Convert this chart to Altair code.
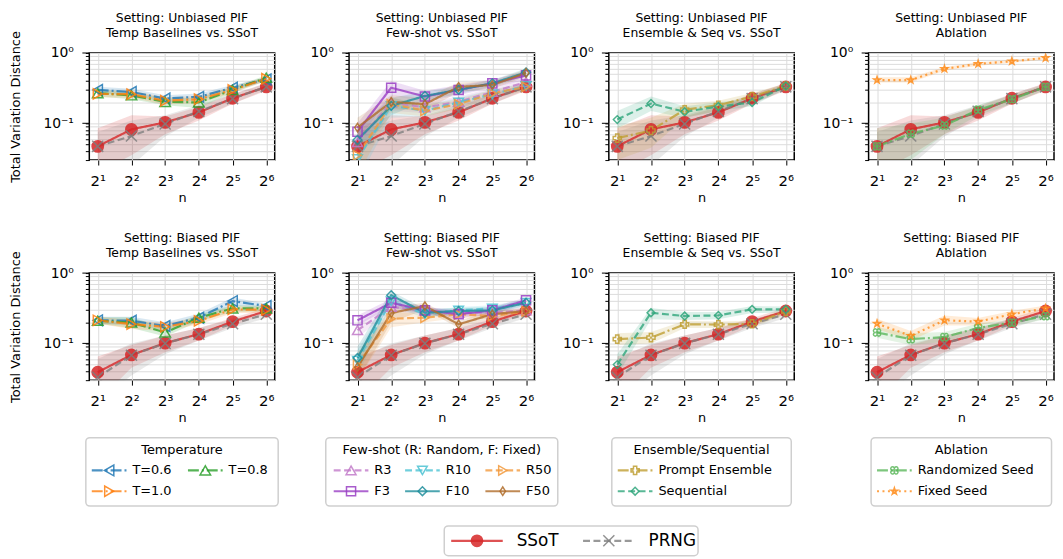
import altair as alt
import pandas as pd

# ---------------- categories / ticks ----------------
N = [2, 4, 8, 16, 32, 64]
X_TICK_LABELS = ['2¹', '2²', '2³', '2⁴', '2⁵', '2⁶']
Y_MAJOR = [1.0, 0.1]
Y_MAJOR_LABELS = ['10⁰', '10⁻¹']
Y_MINOR = [0.03, 0.04, 0.05, 0.06, 0.07, 0.08, 0.09, 0.2, 0.3, 0.4, 0.5, 0.6, 0.7, 0.8, 0.9]

SETTINGS = ['Unbiased PIF', 'Biased PIF']
GROUPS = ['Temp Baselines vs. SSoT', 'Few-shot vs. SSoT', 'Ensemble & Seq vs. SSoT', 'Ablation']
GROUP_SERIES = [
    ['SSoT', 'PRNG', 'T=0.6', 'T=0.8', 'T=1.0'],
    ['SSoT', 'PRNG', 'R3', 'R10', 'R50', 'F3', 'F10', 'F50'],
    ['SSoT', 'PRNG', 'Prompt Ensemble', 'Sequential'],
    ['SSoT', 'PRNG', 'Randomized Seed', 'Fixed Seed'],
]

# ---------------- data: Unbiased PIF ----------------
ub_ssot = [0.047, 0.082, 0.103, 0.143, 0.227, 0.329]
ub_ssot_lo = [0.02, 0.035, 0.07, 0.11, 0.19, 0.29]
ub_ssot_hi = [0.085, 0.13, 0.125, 0.17, 0.26, 0.37]
ub_prng = [0.047, 0.066, 0.098, 0.148, 0.224, 0.33]
ub_prng_lo = [0.02, 0.025, 0.065, 0.12, 0.19, 0.3]
ub_prng_hi = [0.075, 0.11, 0.13, 0.18, 0.26, 0.37]
ub_t06 = [0.298, 0.279, 0.225, 0.238, 0.321, 0.42]
ub_t06_lo = [0.27, 0.25, 0.2, 0.21, 0.29, 0.39]
ub_t06_hi = [0.33, 0.31, 0.25, 0.265, 0.35, 0.45]
ub_t08 = [0.268, 0.25, 0.202, 0.198, 0.298, 0.444]
ub_t08_lo = [0.24, 0.22, 0.18, 0.165, 0.27, 0.41]
ub_t08_hi = [0.3, 0.28, 0.225, 0.23, 0.33, 0.48]
ub_t10 = [0.262, 0.259, 0.209, 0.22, 0.298, 0.43]
ub_t10_lo = [0.235, 0.23, 0.185, 0.195, 0.27, 0.4]
ub_t10_hi = [0.29, 0.29, 0.235, 0.245, 0.33, 0.46]
ub_r3 = [0.054, 0.198, 0.168, 0.202, 0.279, 0.386]
ub_r3_lo = [0.035, 0.15, 0.14, 0.17, 0.24, 0.34]
ub_r3_hi = [0.08, 0.25, 0.2, 0.24, 0.32, 0.43]
ub_r10 = [0.031, 0.177, 0.151, 0.198, 0.259, 0.339]
ub_r10_lo = [0.015, 0.12, 0.125, 0.165, 0.22, 0.3]
ub_r10_hi = [0.05, 0.23, 0.18, 0.23, 0.3, 0.38]
ub_r50 = [0.035, 0.187, 0.151, 0.187, 0.266, 0.33]
ub_r50_lo = [0.018, 0.14, 0.125, 0.16, 0.23, 0.29]
ub_r50_hi = [0.055, 0.235, 0.18, 0.22, 0.3, 0.37]
ub_f3 = [0.076, 0.321, 0.24, 0.298, 0.37, 0.48]
ub_f3_lo = [0.055, 0.25, 0.2, 0.25, 0.32, 0.42]
ub_f3_hi = [0.1, 0.4, 0.29, 0.35, 0.42, 0.55]
ub_f10 = [0.058, 0.177, 0.245, 0.3, 0.37, 0.53]
ub_f10_lo = [0.035, 0.13, 0.21, 0.26, 0.33, 0.47]
ub_f10_hi = [0.085, 0.23, 0.28, 0.34, 0.41, 0.6]
ub_f50 = [0.087, 0.202, 0.187, 0.33, 0.35, 0.52]
ub_f50_lo = [0.06, 0.16, 0.15, 0.28, 0.31, 0.46]
ub_f50_hi = [0.12, 0.25, 0.23, 0.38, 0.4, 0.58]
ub_pe = [0.0615, 0.079, 0.156, 0.181, 0.24, 0.339]
ub_pe_lo = [0.03, 0.045, 0.12, 0.15, 0.21, 0.31]
ub_pe_hi = [0.09, 0.12, 0.19, 0.21, 0.27, 0.37]
ub_seq = [0.113, 0.191, 0.146, 0.173, 0.198, 0.339]
ub_seq_lo = [0.085, 0.15, 0.12, 0.15, 0.175, 0.31]
ub_seq_hi = [0.15, 0.24, 0.175, 0.2, 0.225, 0.37]
ub_rs = [0.047, 0.071, 0.093, 0.156, 0.22, 0.33]
ub_rs_lo = [0.02, 0.03, 0.07, 0.13, 0.19, 0.3]
ub_rs_hi = [0.085, 0.1, 0.12, 0.18, 0.25, 0.36]
ub_fs = [0.412, 0.412, 0.595, 0.70, 0.763, 0.85]
ub_fs_lo = [0.38, 0.38, 0.56, 0.66, 0.72, 0.81]
ub_fs_hi = [0.45, 0.45, 0.63, 0.74, 0.8, 0.89]

# ---------------- data: Biased PIF ----------------
b_ssot = [0.039, 0.0686, 0.101, 0.1355, 0.204, 0.289]
b_ssot_lo = [0.015, 0.045, 0.075, 0.11, 0.18, 0.26]
b_ssot_hi = [0.065, 0.095, 0.13, 0.165, 0.23, 0.32]
b_prng = [0.033, 0.068, 0.1, 0.135, 0.19, 0.26]
b_prng_lo = [0.015, 0.035, 0.07, 0.11, 0.165, 0.23]
b_prng_hi = [0.06, 0.1, 0.13, 0.165, 0.22, 0.29]
b_t06 = [0.213, 0.21, 0.177, 0.232, 0.40, 0.34]
b_t06_lo = [0.19, 0.18, 0.155, 0.2, 0.35, 0.31]
b_t06_hi = [0.24, 0.24, 0.2, 0.265, 0.45, 0.37]
b_t08 = [0.21, 0.198, 0.143, 0.232, 0.315, 0.315]
b_t08_lo = [0.19, 0.165, 0.125, 0.205, 0.28, 0.285]
b_t08_hi = [0.235, 0.235, 0.165, 0.26, 0.35, 0.345]
b_t10 = [0.213, 0.188, 0.172, 0.209, 0.305, 0.30]
b_t10_lo = [0.19, 0.16, 0.15, 0.185, 0.27, 0.27]
b_t10_hi = [0.24, 0.215, 0.195, 0.235, 0.34, 0.33]
b_r3 = [0.154, 0.329, 0.295, 0.273, 0.273, 0.295]
b_r3_lo = [0.12, 0.29, 0.26, 0.245, 0.245, 0.265]
b_r3_hi = [0.19, 0.37, 0.33, 0.3, 0.3, 0.33]
b_r10 = [0.057, 0.40, 0.26, 0.295, 0.315, 0.378]
b_r10_lo = [0.035, 0.34, 0.23, 0.265, 0.28, 0.34]
b_r10_hi = [0.08, 0.46, 0.29, 0.33, 0.35, 0.42]
b_r50 = [0.05, 0.225, 0.232, 0.26, 0.245, 0.285]
b_r50_lo = [0.03, 0.17, 0.2, 0.23, 0.22, 0.255]
b_r50_hi = [0.075, 0.28, 0.265, 0.29, 0.27, 0.315]
b_f3 = [0.213, 0.378, 0.295, 0.26, 0.295, 0.41]
b_f3_lo = [0.18, 0.33, 0.26, 0.23, 0.26, 0.37]
b_f3_hi = [0.25, 0.43, 0.33, 0.29, 0.33, 0.45]
b_f10 = [0.062, 0.485, 0.273, 0.289, 0.295, 0.378]
b_f10_lo = [0.04, 0.42, 0.24, 0.26, 0.265, 0.34]
b_f10_hi = [0.09, 0.55, 0.31, 0.32, 0.33, 0.42]
b_f50 = [0.046, 0.27, 0.34, 0.187, 0.26, 0.289]
b_f50_lo = [0.03, 0.2, 0.3, 0.165, 0.23, 0.26]
b_f50_hi = [0.07, 0.33, 0.38, 0.21, 0.29, 0.32]
b_pe = [0.115, 0.121, 0.187, 0.185, 0.19, 0.285]
b_pe_lo = [0.095, 0.1, 0.165, 0.165, 0.17, 0.26]
b_pe_hi = [0.14, 0.145, 0.21, 0.205, 0.21, 0.31]
b_seq = [0.05, 0.273, 0.245, 0.25, 0.305, 0.305]
b_seq_lo = [0.035, 0.22, 0.215, 0.22, 0.27, 0.275]
b_seq_hi = [0.07, 0.32, 0.28, 0.28, 0.34, 0.335]
b_rs = [0.143, 0.115, 0.123, 0.166, 0.198, 0.245]
b_rs_lo = [0.12, 0.095, 0.105, 0.145, 0.175, 0.22]
b_rs_hi = [0.17, 0.14, 0.145, 0.19, 0.22, 0.27]
b_fs = [0.191, 0.128, 0.213, 0.204, 0.26, 0.315]
b_fs_lo = [0.16, 0.11, 0.18, 0.18, 0.23, 0.285]
b_fs_hi = [0.225, 0.15, 0.25, 0.23, 0.29, 0.345]

DATA = {
    ('Unbiased PIF', 'SSoT'): (ub_ssot, ub_ssot_lo, ub_ssot_hi),
    ('Unbiased PIF', 'PRNG'): (ub_prng, ub_prng_lo, ub_prng_hi),
    ('Unbiased PIF', 'T=0.6'): (ub_t06, ub_t06_lo, ub_t06_hi),
    ('Unbiased PIF', 'T=0.8'): (ub_t08, ub_t08_lo, ub_t08_hi),
    ('Unbiased PIF', 'T=1.0'): (ub_t10, ub_t10_lo, ub_t10_hi),
    ('Unbiased PIF', 'R3'): (ub_r3, ub_r3_lo, ub_r3_hi),
    ('Unbiased PIF', 'R10'): (ub_r10, ub_r10_lo, ub_r10_hi),
    ('Unbiased PIF', 'R50'): (ub_r50, ub_r50_lo, ub_r50_hi),
    ('Unbiased PIF', 'F3'): (ub_f3, ub_f3_lo, ub_f3_hi),
    ('Unbiased PIF', 'F10'): (ub_f10, ub_f10_lo, ub_f10_hi),
    ('Unbiased PIF', 'F50'): (ub_f50, ub_f50_lo, ub_f50_hi),
    ('Unbiased PIF', 'Prompt Ensemble'): (ub_pe, ub_pe_lo, ub_pe_hi),
    ('Unbiased PIF', 'Sequential'): (ub_seq, ub_seq_lo, ub_seq_hi),
    ('Unbiased PIF', 'Randomized Seed'): (ub_rs, ub_rs_lo, ub_rs_hi),
    ('Unbiased PIF', 'Fixed Seed'): (ub_fs, ub_fs_lo, ub_fs_hi),
    ('Biased PIF', 'SSoT'): (b_ssot, b_ssot_lo, b_ssot_hi),
    ('Biased PIF', 'PRNG'): (b_prng, b_prng_lo, b_prng_hi),
    ('Biased PIF', 'T=0.6'): (b_t06, b_t06_lo, b_t06_hi),
    ('Biased PIF', 'T=0.8'): (b_t08, b_t08_lo, b_t08_hi),
    ('Biased PIF', 'T=1.0'): (b_t10, b_t10_lo, b_t10_hi),
    ('Biased PIF', 'R3'): (b_r3, b_r3_lo, b_r3_hi),
    ('Biased PIF', 'R10'): (b_r10, b_r10_lo, b_r10_hi),
    ('Biased PIF', 'R50'): (b_r50, b_r50_lo, b_r50_hi),
    ('Biased PIF', 'F3'): (b_f3, b_f3_lo, b_f3_hi),
    ('Biased PIF', 'F10'): (b_f10, b_f10_lo, b_f10_hi),
    ('Biased PIF', 'F50'): (b_f50, b_f50_lo, b_f50_hi),
    ('Biased PIF', 'Prompt Ensemble'): (b_pe, b_pe_lo, b_pe_hi),
    ('Biased PIF', 'Sequential'): (b_seq, b_seq_lo, b_seq_hi),
    ('Biased PIF', 'Randomized Seed'): (b_rs, b_rs_lo, b_rs_hi),
    ('Biased PIF', 'Fixed Seed'): (b_fs, b_fs_lo, b_fs_hi),
}

# ---------------- series styles ----------------
X_PATH = 'M-1,-1L1,1M-1,1L1,-1'
STAR_PATH = ('M0,-1L0.2245,-0.309L0.951,-0.309L0.363,0.118L0.588,0.809L0,0.382'
             'L-0.588,0.809L-0.363,0.118L-0.951,-0.309L-0.2245,-0.309Z')
THIN_DIAMOND = 'M0,-1L0.65,0L0,1L-0.65,0Z'
QUATREFOIL = ('M0,-0.42A0.49,0.49 0 1,1 0.42,0A0.49,0.49 0 1,1 0,0.42'
              'A0.49,0.49 0 1,1 -0.42,0A0.49,0.49 0 1,1 0,-0.42Z'
              'M-0.3,-0.3L0.3,0.3M-0.3,0.3L0.3,-0.3')
SOLID, DASHED, DASHDOT, DOTTED = [1, 0], [7, 3.5], [11, 3, 2, 3], [2, 3.5]

SERIES = ['SSoT', 'PRNG', 'T=0.6', 'T=0.8', 'T=1.0', 'R3', 'R10', 'R50', 'F3', 'F10', 'F50',
          'Prompt Ensemble', 'Sequential', 'Randomized Seed', 'Fixed Seed']
COLORS = ['#d62728', '#7f7f7f', '#1f77b4', '#2ca02c', '#ff7f0e', '#c27bc9', '#4cc3d3', '#f39a3c',
          '#9a3fc4', '#1f8e9c', '#b06d2a', '#bf9f33', '#2fa67c', '#5cb85c', '#ff8c1a']
FILLS = ['#d62728'] + ['transparent'] * 13 + ['#ffc48a']
DASHES = [SOLID, DASHED, DASHDOT, DASHDOT, DASHDOT, DASHED, DASHED, DASHED, SOLID, SOLID, SOLID,
          DASHDOT, DASHED, DASHDOT, DOTTED]
SHAPES = ['circle', X_PATH, 'triangle-left', 'triangle-up', 'triangle-right', 'triangle-up',
          'triangle-down', 'triangle-right', 'square', 'diamond', THIN_DIAMOND, 'cross', 'diamond',
          QUATREFOIL, STAR_PATH]
SIZES = [130, 50, 120, 120, 120, 110, 110, 110, 100, 150, 150, 130, 150, 150, 170]

color_scale = alt.Scale(domain=SERIES, range=COLORS)
fill_scale = alt.Scale(domain=SERIES, range=FILLS)
dash_scale = alt.Scale(domain=SERIES, range=DASHES)
shape_scale = alt.Scale(domain=SERIES, range=SHAPES)
size_scale = alt.Scale(domain=SERIES, range=SIZES)

# ---------------- long table ----------------
rows = []
for p in range(8):
    setting = SETTINGS[p // 4]
    g = p % 4
    for k, name in enumerate(GROUP_SERIES[g]):
        v, lo, hi = DATA[(setting, name)]
        for j, n in enumerate(N):
            rows.append(dict(panel=p, series=name, k=k, n=n, v=v[j], lo=lo[j], hi=hi[j]))
df = pd.DataFrame(rows)
major_df = pd.DataFrame({'val': Y_MAJOR})

FONT = 'DejaVu Sans'
PANEL_W, PANEL_H = 187, 108

x_scale = alt.Scale(type='log', base=2, domain=[2 ** 0.75, 2 ** 6.25], nice=False, zero=False)
y_scale = alt.Scale(type='log', domain=[0.03, 1.0], nice=False, zero=False)


def label_expr(values, labels):
    expr = "''"
    for v, l in reversed(list(zip(values, labels))):
        expr = f"datum.value == {v} ? '{l}' : ({expr})"
    return expr


x_axis = alt.Axis(values=N, labelExpr=label_expr(N, X_TICK_LABELS), title='n', grid=True,
                  tickSize=5, labelFontSize=15, titleFontSize=13, labelPadding=9, titlePadding=3,
                  labelFlush=False, labelOverlap=False)


def y_axis(first):
    return alt.Axis(values=Y_MAJOR + Y_MINOR, labelExpr=label_expr(Y_MAJOR, Y_MAJOR_LABELS),
                    title='Total Variation Distance' if first else '', grid=True, tickSize=4,
                    labelFontSize=14, titleFontSize=13, labelPadding=12, titlePadding=21,
                    labelFlush=False, labelOverlap=False)


def panel(p):
    g = p % 4
    ya = y_axis(g == 0)
    base = alt.Chart(df).transform_filter(f'datum.panel == {p}')
    xe = alt.X('n:Q', scale=x_scale, axis=x_axis)
    band = base.mark_area(opacity=0.17, clip=True).encode(
        x=xe,
        y=alt.Y('lo:Q', scale=y_scale, axis=ya),
        y2='hi:Q',
        color=alt.Color('series:N', scale=color_scale, legend=None),
    )
    line = base.mark_line(strokeWidth=2.2, opacity=0.8, clip=True).encode(
        x=xe,
        y=alt.Y('v:Q', scale=y_scale, axis=ya),
        color=alt.Color('series:N', scale=color_scale, legend=None),
        strokeDash=alt.StrokeDash('series:N', scale=dash_scale, legend=None),
    )
    pts = base.mark_point(strokeWidth=1.5, opacity=0.85, clip=True).encode(
        x=xe,
        y=alt.Y('v:Q', scale=y_scale, axis=ya),
        shape=alt.Shape('series:N', scale=shape_scale, legend=None),
        stroke=alt.Stroke('series:N', scale=color_scale, legend=None),
        fill=alt.Fill('series:N', scale=fill_scale, legend=None),
        size=alt.Size('series:N', scale=size_scale, legend=None),
    )
    majt = alt.Chart(major_df).mark_rule(color='black', strokeWidth=1).encode(
        y=alt.Y('val:Q', scale=y_scale, axis=ya),
        x=alt.value(-7),
        x2=alt.value(0),
    )
    title_df = pd.DataFrame({'t': [f'Setting: {SETTINGS[p // 4]}\n{GROUPS[g]}']})
    ttl = alt.Chart(title_df).mark_text(fontSize=12.5, lineBreak='\n', lineHeight=15,
                                        align='center', baseline='middle', color='black').encode(
        text='t:N', x=alt.value(PANEL_W / 2), y=alt.value(-35.5))
    return alt.layer(band, line, pts, majt, ttl).properties(width=PANEL_W, height=PANEL_H)


panels = [panel(p) for p in range(8)]

# ---------------- custom legends ----------------
LEGEND_TITLES = ['Temperature', 'Few-shot (R: Random, F: Fixed)', 'Ensemble/Sequential', 'Ablation']
LEGEND_ENTRIES = [
    [('T=0.6', 0, 0), ('T=1.0', 0, 1), ('T=0.8', 1, 0)],
    [('R3', 0, 0), ('F3', 0, 1), ('R10', 1, 0), ('F10', 1, 1), ('R50', 2, 0), ('F50', 2, 1)],
    [('Prompt Ensemble', 0, 0), ('Sequential', 0, 1)],
    [('Randomized Seed', 0, 0), ('Fixed Seed', 0, 1)],
]
BOTTOM_ENTRIES = ['SSoT', 'PRNG']

# layout (pixels relative to first column's left edge / legend row top)
COL_LEFT = [0, 262, 524, 786]
LEG_BOX_W = [194, 234, 181, 182]
LEG_BOX_Y = (-56, 13)
LEG_TITLE_Y = -44
LEG_ROW_Y = [-23, -2]
LEG_COL_X = [[6, 103], [8, 80, 161], [6], [6]]
HANDLE = 35
BOT_BOX = (358, 614, 33, 63)
BOT_COL_X = [7, 140]
BOT_HANDLE = 52

boxes, titles, items = [], [], []
for g in range(4):
    left = COL_LEFT[g] + PANEL_W / 2 - LEG_BOX_W[g] / 2
    boxes.append(dict(x=left, x2=left + LEG_BOX_W[g], y=LEG_BOX_Y[0], y2=LEG_BOX_Y[1]))
    titles.append(dict(x=left + LEG_BOX_W[g] / 2, y=LEG_TITLE_Y, t=LEGEND_TITLES[g]))
    for name, c, r in LEGEND_ENTRIES[g]:
        hx = left + LEG_COL_X[g][c]
        items.append(dict(series=name, hx=hx, hx2=hx + HANDLE, mx=hx + HANDLE / 2,
                          tx=hx + HANDLE + 6, y=LEG_ROW_Y[r], fs=13))
boxes.append(dict(x=BOT_BOX[0], x2=BOT_BOX[1], y=BOT_BOX[2], y2=BOT_BOX[3]))
for i, name in enumerate(BOTTOM_ENTRIES):
    hx = BOT_BOX[0] + BOT_COL_X[i]
    items.append(dict(series=name, hx=hx, hx2=hx + BOT_HANDLE, mx=hx + BOT_HANDLE / 2,
                      tx=hx + BOT_HANDLE + 14, y=(BOT_BOX[2] + BOT_BOX[3]) / 2, fs=17))

boxes_df, titles_df, items_df = pd.DataFrame(boxes), pd.DataFrame(titles), pd.DataFrame(items)

px = lambda f: alt.X(f, scale=None, axis=None)
py = lambda f: alt.Y(f, scale=None, axis=None)

leg_box = alt.Chart(boxes_df).mark_rect(fill='white', stroke='#cfcfcf', strokeWidth=1.5,
                                        cornerRadius=4).encode(
    x=px('x:Q'), x2='x2:Q', y=py('y:Q'), y2='y2:Q')
leg_title = alt.Chart(titles_df).mark_text(fontSize=13, align='center', baseline='middle',
                                           color='black').encode(
    x=px('x:Q'), y=py('y:Q'), text='t:N')
leg_handle = alt.Chart(items_df).mark_rule(strokeWidth=2.2, opacity=0.8).encode(
    x=px('hx:Q'), x2='hx2:Q', y=py('y:Q'),
    color=alt.Color('series:N', scale=color_scale, legend=None),
    strokeDash=alt.StrokeDash('series:N', scale=dash_scale, legend=None))
leg_mark = alt.Chart(items_df).mark_point(strokeWidth=1.5, opacity=0.85).encode(
    x=px('mx:Q'), y=py('y:Q'),
    shape=alt.Shape('series:N', scale=shape_scale, legend=None),
    stroke=alt.Stroke('series:N', scale=color_scale, legend=None),
    fill=alt.Fill('series:N', scale=fill_scale, legend=None),
    size=alt.Size('series:N', scale=size_scale, legend=None))
leg_text = alt.Chart(items_df).mark_text(align='left', baseline='middle', color='black').encode(
    x=px('tx:Q'), y=py('y:Q'), text='series:N', size=alt.Size('fs:Q', scale=None))

legend_chart = alt.layer(leg_box, leg_title, leg_handle, leg_mark, leg_text).properties(
    width=PANEL_W, height=63, view=alt.ViewBackground(stroke='transparent'))

chart = alt.concat(*panels, legend_chart, columns=4, spacing={'row': 114, 'column': 75},
                   bounds='flush').properties(
    padding={'left': 0, 'top': 0, 'right': 0, 'bottom': 0}
).configure(font=FONT).configure_view(
    stroke='black', strokeWidth=1.5
).configure_axis(
    domain=False, tickColor='black', tickWidth=1, labelColor='black', titleColor='black',
    gridColor='#dcdcdc', gridWidth=1, titleFontWeight='normal', labelFont=FONT, titleFont=FONT
)

chart.save('out.html', embed_options={'renderer': 'svg', 'actions': False})
